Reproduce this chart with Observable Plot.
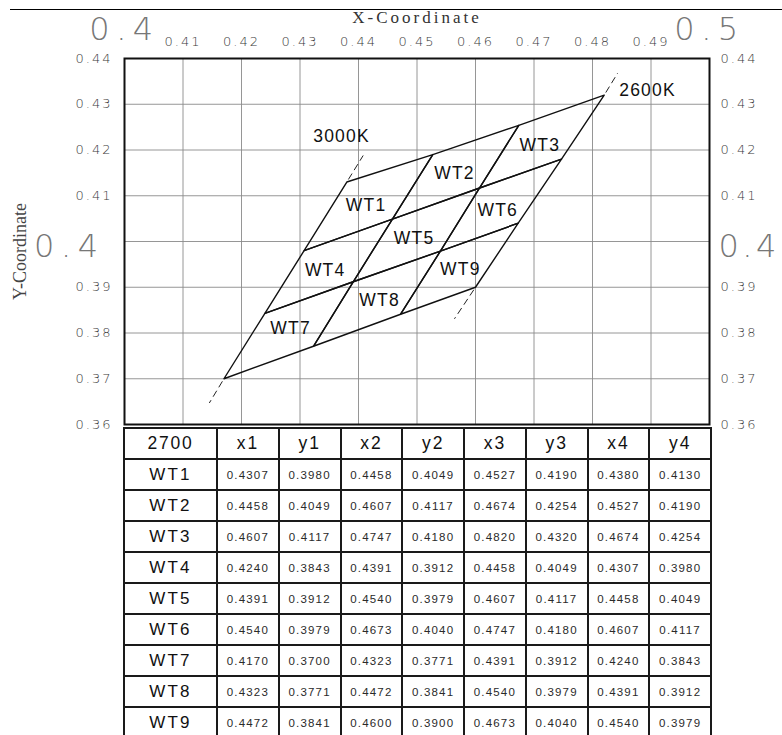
<!DOCTYPE html>
<html>
<head>
<meta charset="utf-8">
<script src="https://cdn.jsdelivr.net/npm/d3@7"></script>
<script src="https://cdn.jsdelivr.net/npm/@observablehq/plot@0.6"></script>
<style>
  html, body { margin: 0; padding: 0; background: #fff; overflow: hidden; }
  #wrap { position: relative; width: 782px; height: 735px; overflow: hidden; }
  #topline { position: absolute; left: 10px; top: 9px; width: 772px; height: 0; border-top: 1.5px solid #000; }
  #chart { position: absolute; left: 0; top: 0; }
  #tbl { position: absolute; left: 123px; top: 427px; border-collapse: collapse; table-layout: fixed; width: 587px;
         font-family: "Liberation Sans", Arial, sans-serif; }
  #tbl td { border: 2px solid #1a1a1a; height: 29px; padding: 0; text-align: center; vertical-align: middle; white-space: nowrap; }
  #tbl tr.head td { font-size: 17.5px; color: #111; letter-spacing: 1.8px; }
  #tbl td.name { font-size: 17px; color: #111; letter-spacing: 2.2px; }
  #tbl td.val { font-size: 11.5px; color: #2a2a2a; letter-spacing: 1.2px; }
</style>
</head>
<body>
<div id="wrap">
  <div id="chart"></div>
  <div id="topline"></div>
  <table id="tbl"></table>
</div>
<script>
// ---- data ----
const zones = ["WT1","WT2","WT3","WT4","WT5","WT6","WT7","WT8","WT9"];
const x1 = [0.4307,0.4458,0.4607,0.4240,0.4391,0.4540,0.4170,0.4323,0.4472];
const y1 = [0.3980,0.4049,0.4117,0.3843,0.3912,0.3979,0.3700,0.3771,0.3841];
const x2 = [0.4458,0.4607,0.4747,0.4391,0.4540,0.4673,0.4323,0.4472,0.4600];
const y2 = [0.4049,0.4117,0.4180,0.3912,0.3979,0.4040,0.3771,0.3841,0.3900];
const x3 = [0.4527,0.4674,0.4820,0.4458,0.4607,0.4747,0.4391,0.4540,0.4673];
const y3 = [0.4190,0.4254,0.4320,0.4049,0.4117,0.4180,0.3912,0.3979,0.4040];
const x4 = [0.4380,0.4527,0.4674,0.4307,0.4458,0.4607,0.4240,0.4391,0.4540];
const y4 = [0.4130,0.4190,0.4254,0.3980,0.4049,0.4117,0.3843,0.3912,0.3979];

const zoneLabelX = [0.4413,0.4564,0.4710,0.4343,0.4495,0.4638,0.4284,0.4436,0.4574];
const zoneLabelY = [0.4079,0.4149,0.4210,0.3937,0.4006,0.4068,0.3809,0.3871,0.3938];

const cctNames = ["3000K","2600K"];
const cctX = [0.4371,0.4894];
const cctY = [0.4230,0.4330];

const dashStartX = [0.4380,0.4170,0.4820,0.4600];
const dashStartY = [0.4130,0.3700,0.4320,0.3900];
const dashEndX   = [0.4408,0.4145,0.4843,0.4564];
const dashEndY   = [0.4188,0.3647,0.4368,0.3831];

const xTicksSmall = [0.41,0.42,0.43,0.44,0.45,0.46,0.47,0.48,0.49];
const xTicksBig = [0.40,0.50];
const yTicksSmall = [0.36,0.37,0.38,0.39,0.41,0.42,0.43,0.44];
const yTicksBig = [0.40];
const xGrid = [0.41,0.42,0.43,0.44,0.45,0.46,0.47,0.48,0.49];
const yGrid = [0.37,0.38,0.39,0.40,0.41,0.42,0.43];

const tableHead = ["2700","x1","y1","x2","y2","x3","y3","x4","y4"];
const xTitle = "X-Coordinate";
const yTitle = "Y-Coordinate";

// ---- derived tables ----
const outline = [];
zones.forEach((z, i) => {
  outline.push({zone: z, x: x1[i], y: y1[i]});
  outline.push({zone: z, x: x2[i], y: y2[i]});
  outline.push({zone: z, x: x3[i], y: y3[i]});
  outline.push({zone: z, x: x4[i], y: y4[i]});
  outline.push({zone: z, x: x1[i], y: y1[i]});
});
const zoneLabels = zones.map((z, i) => ({text: z, x: zoneLabelX[i], y: zoneLabelY[i]}));
const cctLabels = cctNames.map((t, i) => ({text: t, x: cctX[i], y: cctY[i]}));
const dashes = dashStartX.map((d, i) => ({x1: dashStartX[i], y1: dashStartY[i], x2: dashEndX[i], y2: dashEndY[i]}));

const tickFont = "DejaVu Sans, sans-serif";

const chart = Plot.plot({
  width: 782,
  height: 426,
  marginTop: 58,
  marginLeft: 124,
  marginRight: 73,
  marginBottom: 2,
  style: {background: "transparent", overflow: "visible", fontFamily: tickFont},
  x: {domain: [0.40, 0.50]},
  y: {domain: [0.36, 0.44]},
  marks: [
    Plot.gridX(xGrid, {stroke: "#8a8a8a", strokeOpacity: 1, strokeWidth: 0.9}),
    Plot.gridY(yGrid, {stroke: "#8a8a8a", strokeOpacity: 1, strokeWidth: 0.9}),
    Plot.axisX(xTicksSmall, {anchor: "top", tickSize: 0, tickPadding: 13, fontSize: 13, color: "#3a3a3a", fontWeight: 200, tickFormat: d => d.toFixed(2), label: null}),
    Plot.axisX(xTicksBig, {anchor: "top", tickSize: 0, tickPadding: 19, fontSize: 32, color: "#777", fontWeight: 200, tickFormat: d => d.toFixed(1), label: null}),
    Plot.axisY(yTicksSmall, {anchor: "left", tickSize: 0, tickPadding: 12, fontSize: 13, color: "#3a3a3a", fontWeight: 200, tickFormat: d => d.toFixed(2), label: null}),
    Plot.axisY(yTicksSmall, {anchor: "right", tickSize: 0, tickPadding: 11, fontSize: 13, color: "#3a3a3a", fontWeight: 200, tickFormat: d => d.toFixed(2), label: null}),
    Plot.axisY(yTicksBig, {anchor: "left", tickSize: 0, tickPadding: 20, fontSize: 32, color: "#777", fontWeight: 200, dy: 5, tickFormat: d => d.toFixed(1), label: null}),
    Plot.axisY(yTicksBig, {anchor: "right", tickSize: 0, tickPadding: 9, fontSize: 32, color: "#777", fontWeight: 200, dy: 5, tickFormat: d => d.toFixed(1), label: null}),
    Plot.text([xTitle], {frameAnchor: "top", text: d => d, dy: -36, lineAnchor: "bottom", fontSize: 17, fill: "#333", fontFamily: "Liberation Serif, serif"}),
    Plot.text([yTitle], {frameAnchor: "left", text: d => d, dx: -104, dy: 10, rotate: -90, textAnchor: "middle", fontSize: 18, fill: "#444", fontFamily: "Liberation Serif, serif"}),
    Plot.frame({stroke: "#111", strokeWidth: 2}),
    Plot.line(outline, {x: "x", y: "y", z: "zone", stroke: "#111", strokeWidth: 1.4}),
    Plot.link(dashes, {x1: "x1", y1: "y1", x2: "x2", y2: "y2", stroke: "#222", strokeWidth: 1, strokeDasharray: "7,4", strokeDashoffset: -3}),
    Plot.text(zoneLabels, {x: "x", y: "y", text: "text", fontSize: 17.5, fill: "#111", fontFamily: "Liberation Sans, Arial, sans-serif"}),
    Plot.text(cctLabels, {x: "x", y: "y", text: "text", fontSize: 17.5, fill: "#111", fontFamily: "Liberation Sans, Arial, sans-serif"})
  ]
});
document.getElementById("chart").appendChild(chart);

// letter spacing per text size
chart.querySelectorAll('g[font-size="13"]').forEach(g => g.style.letterSpacing = "2px");
chart.querySelectorAll('g[font-size="32"]').forEach(g => {
  g.style.letterSpacing = g.getAttribute("text-anchor") === "start" ? "3.5px" : "6.5px";
});
chart.querySelectorAll('g[font-size="17.5"]').forEach(g => g.style.letterSpacing = "1.2px");
chart.querySelectorAll('g[font-size="17"]').forEach(g => g.style.letterSpacing = "3px");

// ---- table ----
const tbl = document.getElementById("tbl");
const cg = document.createElement("colgroup");
tableHead.forEach((h, i) => {
  const c = document.createElement("col");
  c.style.width = i === 0 ? "93px" : "61.75px";
  cg.appendChild(c);
});
tbl.appendChild(cg);
const hr = document.createElement("tr");
hr.className = "head";
tableHead.forEach(h => { const td = document.createElement("td"); td.textContent = h; hr.appendChild(td); });
tbl.appendChild(hr);
zones.forEach((z, i) => {
  const tr = document.createElement("tr");
  const vals = [x1[i], y1[i], x2[i], y2[i], x3[i], y3[i], x4[i], y4[i]];
  const n = document.createElement("td"); n.className = "name"; n.textContent = z; tr.appendChild(n);
  vals.forEach(v => { const td = document.createElement("td"); td.className = "val"; td.textContent = v.toFixed(4); tr.appendChild(td); });
  tbl.appendChild(tr);
});
</script>
</body>
</html>
